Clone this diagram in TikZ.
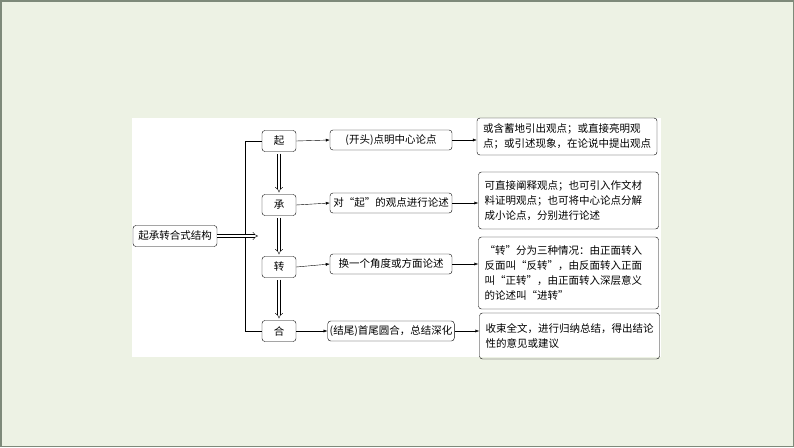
\documentclass[tikz,border=0pt]{standalone}
\usepackage{fontspec}
\setmainfont{Noto Sans CJK SC}
\usetikzlibrary{arrows.meta}
\definecolor{slidebg}{HTML}{EDF2E4}
\definecolor{slideedge}{HTML}{7E8A7A}
\tikzset{
  txt/.style={font=\fontsize{10.5}{15}\selectfont},
  box/.style={txt, draw, rounded corners=3pt, inner sep=2pt},
  stage/.style={box, minimum width=34pt, minimum height=21pt},
  idea/.style={box, minimum width=122pt, minimum height=20pt},
  note/.style={box, align=left, text width=168pt, inner xsep=6pt},
  link/.style={-{Latex[length=4pt,width=3pt]}, thin},
  hollow/.style={double, double distance=2.5pt, thin, -{Implies[length=4pt]}}
}
\newcommand*{\Stage}[3]{% #1 = name, #2 = y, #3 = text
  \node [stage] (#1) at (279,#2) {#3};
}

\begin{document}
\begin{tikzpicture}[x=1pt, y=-1pt]
  \useasboundingbox (0,0) rectangle (794,447);
  \fill [slidebg] (0,0) rectangle (794,447);
  \draw [slideedge, line width=1.5pt] (0.75,0.75) rectangle (793.25,446.25);
  \fill [white] (132,118) rectangle (661,357);

  \node [box, minimum width=84pt, minimum height=21pt] (main) at (175,236) {起承转合式结构};
  \coordinate (mainend) at (258,236);

  \Stage{qi}{141}{起}
  \Stage{cheng}{205}{承}
  \Stage{zhuan}{267}{转}
  \Stage{he}{331}{合}

  \node [idea] (qiM) at (391,140) {(开头)点明中心论点};
  \node [idea] (chengM) at (391,203) {对“起”的观点进行论述};
  \node [idea] (zhuanM) at (391,264) {换一个角度或方面论述};
  \node [idea] (heM) at (391,331) {(结尾)首尾圆合，总结深化};

  \node [note, minimum height=37pt] (qiR) at (567,136.5)
    {或含蓄地引出观点；或直接亮明观\\点；或引述现象，在论说中提出观点};
  \node [note, minimum height=57pt] (chengR) at (568.5,200.5)
    {可直接阐释观点；也可引入作文材\\料证明观点；也可将中心论点分解\\成小论点，分别进行论述};
  \node [note, minimum height=72pt] (zhuanR) at (568.5,273)
    {“转”分为三种情况：由正面转入\\反面叫“反转”，由反面转入正面\\叫“正转”，由正面转入深层意义\\的论述叫“进转”};
  \node [note, minimum height=46pt] (heR) at (569.5,336)
    {收束全文，进行归纳总结，得出结论\\性的意见或建议};

  % fork and hollow arrows
  \draw [thin] (qi.west) -- ++(-17,0) |- (he.west);
  \draw [hollow] (main.east) -- (mainend);
  \draw [hollow, shorten <=2pt, shorten >=2pt] (qi.south) -- (cheng.north);
  \draw [hollow, shorten <=2pt, shorten >=2pt] (cheng.south) -- (zhuan.north);
  \draw [hollow, shorten <=2pt, shorten >=2pt] (zhuan.south) -- (he.north);

  % rows
  \foreach \s in {qi, cheng, zhuan, he} {
    \draw [link] (\s.east) -- (\s M.west);
    \draw [link] (\s M.east) -- (\s M.east -| \s R.west);
  }
\end{tikzpicture}
\end{document}
